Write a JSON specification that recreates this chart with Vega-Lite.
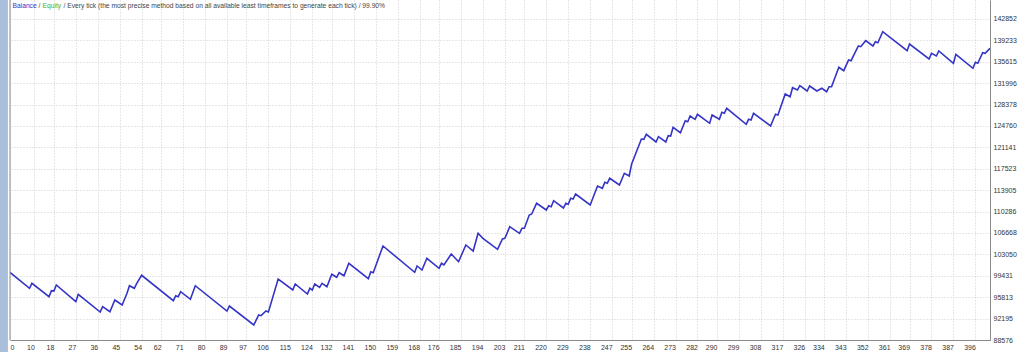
{
  "$schema": "https://vega.github.io/schema/vega-lite/v6.json",
  "width": 980,
  "height": 340,
  "padding": {"left": 10, "top": 0, "right": 34, "bottom": 12},
  "autosize": {"type": "none"},
  "background": "#ffffff",
  "config": {"view": {"stroke": null}, "font": "Liberation Sans"},
  "layer": [
    {
      "data": {"values": [{}]},
      "mark": {"type": "rect", "color": "#a8bedb", "clip": false},
      "encoding": {"x": {"datum": -4.2}, "x2": {"datum": -0.85}, "y": {"datum": 86540}, "y2": {"datum": 146063}}
    },
    {
      "data": {"values": [
        {"trade": 0, "balance": 100000}, {"trade": 8, "balance": 97317}, {"trade": 9, "balance": 98163},
        {"trade": 16, "balance": 95897}, {"trade": 17, "balance": 96912}, {"trade": 18, "balance": 96850},
        {"trade": 19, "balance": 97875}, {"trade": 27, "balance": 95052}, {"trade": 28, "balance": 96303},
        {"trade": 37, "balance": 93310}, {"trade": 38, "balance": 94206}, {"trade": 41, "balance": 93361},
        {"trade": 43, "balance": 95339}, {"trade": 46, "balance": 94494}, {"trade": 48, "balance": 96472},
        {"trade": 49, "balance": 97757}, {"trade": 51, "balance": 97317}, {"trade": 52, "balance": 98163},
        {"trade": 54, "balance": 99516}, {"trade": 67, "balance": 95221}, {"trade": 68, "balance": 96066},
        {"trade": 69, "balance": 95897}, {"trade": 70, "balance": 96743}, {"trade": 74, "balance": 95458},
        {"trade": 76, "balance": 97757}, {"trade": 89, "balance": 93479}, {"trade": 90, "balance": 94325},
        {"trade": 100, "balance": 91112}, {"trade": 102, "balance": 92803}, {"trade": 103, "balance": 92685},
        {"trade": 105, "balance": 93479}, {"trade": 106, "balance": 93310}, {"trade": 110, "balance": 98890},
        {"trade": 116, "balance": 97030}, {"trade": 117, "balance": 98044}, {"trade": 122, "balance": 96354},
        {"trade": 123, "balance": 97317}, {"trade": 124, "balance": 97030}, {"trade": 125, "balance": 98044},
        {"trade": 127, "balance": 97487}, {"trade": 128, "balance": 98163}, {"trade": 130, "balance": 97588},
        {"trade": 132, "balance": 99685}, {"trade": 134, "balance": 99177}, {"trade": 135, "balance": 99955},
        {"trade": 137, "balance": 99448}, {"trade": 139, "balance": 101545}, {"trade": 147, "balance": 98941},
        {"trade": 148, "balance": 100124}, {"trade": 149, "balance": 99955}, {"trade": 153, "balance": 104470},
        {"trade": 166, "balance": 100023}, {"trade": 167, "balance": 101088}, {"trade": 169, "balance": 100412},
        {"trade": 171, "balance": 102390}, {"trade": 176, "balance": 100699}, {"trade": 177, "balance": 101545},
        {"trade": 178, "balance": 101257}, {"trade": 181, "balance": 103117}, {"trade": 184, "balance": 101815},
        {"trade": 187, "balance": 104639}, {"trade": 190, "balance": 103624}, {"trade": 192, "balance": 106617},
        {"trade": 194, "balance": 105771}, {"trade": 200, "balance": 103912}, {"trade": 202, "balance": 105653},
        {"trade": 203, "balance": 105771}, {"trade": 205, "balance": 107733}, {"trade": 209, "balance": 106617},
        {"trade": 210, "balance": 107462}, {"trade": 211, "balance": 107462}, {"trade": 213, "balance": 109711},
        {"trade": 214, "balance": 109880}, {"trade": 216, "balance": 111689}, {"trade": 220, "balance": 110556},
        {"trade": 221, "balance": 111283}, {"trade": 222, "balance": 111114}, {"trade": 223, "balance": 112129},
        {"trade": 227, "balance": 110895}, {"trade": 228, "balance": 111689}, {"trade": 229, "balance": 111520},
        {"trade": 230, "balance": 112535}, {"trade": 231, "balance": 112416}, {"trade": 232, "balance": 113262},
        {"trade": 238, "balance": 111402}, {"trade": 241, "balance": 114614}, {"trade": 243, "balance": 114225},
        {"trade": 244, "balance": 115240}, {"trade": 245, "balance": 115071}, {"trade": 246, "balance": 115916},
        {"trade": 250, "balance": 114783}, {"trade": 252, "balance": 116762}, {"trade": 254, "balance": 116305},
        {"trade": 255, "balance": 118334}, {"trade": 259, "balance": 122561}, {"trade": 260, "balance": 122510},
        {"trade": 261, "balance": 123356}, {"trade": 265, "balance": 122054}, {"trade": 266, "balance": 122950},
        {"trade": 269, "balance": 122054}, {"trade": 270, "balance": 123119}, {"trade": 271, "balance": 123068},
        {"trade": 272, "balance": 124539}, {"trade": 275, "balance": 123626}, {"trade": 277, "balance": 125655},
        {"trade": 278, "balance": 125486}, {"trade": 279, "balance": 126450}, {"trade": 281, "balance": 125892},
        {"trade": 282, "balance": 126737}, {"trade": 287, "balance": 125216}, {"trade": 288, "balance": 126619},
        {"trade": 291, "balance": 125892}, {"trade": 292, "balance": 127075}, {"trade": 293, "balance": 126906},
        {"trade": 294, "balance": 127752}, {"trade": 302, "balance": 125046}, {"trade": 303, "balance": 125892},
        {"trade": 304, "balance": 125774}, {"trade": 305, "balance": 126906}, {"trade": 312, "balance": 124759},
        {"trade": 314, "balance": 126737}, {"trade": 315, "balance": 126619}, {"trade": 318, "balance": 130170},
        {"trade": 320, "balance": 129713}, {"trade": 321, "balance": 131235}, {"trade": 323, "balance": 130846},
        {"trade": 324, "balance": 131573}, {"trade": 327, "balance": 130677}, {"trade": 328, "balance": 131522},
        {"trade": 331, "balance": 130677}, {"trade": 333, "balance": 131134}, {"trade": 335, "balance": 130559},
        {"trade": 336, "balance": 131404}, {"trade": 337, "balance": 131404}, {"trade": 340, "balance": 134684},
        {"trade": 342, "balance": 134109}, {"trade": 344, "balance": 135918}, {"trade": 345, "balance": 135800},
        {"trade": 348, "balance": 138286}, {"trade": 349, "balance": 138167}, {"trade": 351, "balance": 139182},
        {"trade": 354, "balance": 138286}, {"trade": 355, "balance": 139013}, {"trade": 356, "balance": 138843},
        {"trade": 358, "balance": 140703}, {"trade": 368, "balance": 137491}, {"trade": 369, "balance": 138624},
        {"trade": 377, "balance": 136087}, {"trade": 378, "balance": 137051}, {"trade": 380, "balance": 136595},
        {"trade": 381, "balance": 137440}, {"trade": 387, "balance": 135360}, {"trade": 388, "balance": 136882},
        {"trade": 395, "balance": 134515}, {"trade": 396, "balance": 135530}, {"trade": 397, "balance": 135360},
        {"trade": 399, "balance": 137153}, {"trade": 400, "balance": 137051}, {"trade": 402, "balance": 137897}
      ]},
      "mark": {"type": "line", "color": "#3434c6", "strokeWidth": 1.6, "clip": true},
      "encoding": {
        "x": {
          "field": "trade", "type": "quantitative",
          "scale": {"domain": [0, 402], "nice": false, "zero": false},
          "axis": {
            "values": [0,10,18,27,36,45,54,62,71,80,89,97,106,115,124,132,141,150,159,168,176,185,194,203,211,220,229,238,247,255,264,273,282,290,299,308,317,326,334,343,352,361,369,378,387,396],
            "tickCount": 200, "format": "d",
            "title": null, "ticks": false,
            "labelAlign": {"condition": {"test": "datum.value == 0", "value": "left"}, "value": "right"},
            "labelBaseline": "top",
            "labelPadding": 3, "labelFontSize": 7, "labelColor": "#333333",
            "labelOverlap": false, "labelFlush": false, "labelBound": false,
            "grid": true, "gridColor": "#cfcfcf", "gridDash": [1, 2], "gridWidth": 1,
            "domainColor": "#8a8a8a", "domainWidth": 1
          }
        },
        "y": {
          "field": "balance", "type": "quantitative",
          "scale": {"domain": [88576, 146063], "nice": false, "zero": false},
          "axis": {
            "orient": "right",
            "values": [88576,92195,95813,99431,103050,106668,110286,113905,117523,121141,124760,128378,131996,135615,139233,142852],
            "tickCount": 200, "format": "d",
            "title": null, "ticks": false, "labelAlign": "left", "labelBaseline": "middle",
            "labelPadding": 3, "labelFontSize": 7, "labelColor": "#333333",
            "labelOverlap": false, "labelFlush": false, "labelBound": false,
            "grid": true, "gridColor": "#cfcfcf", "gridDash": [1, 2], "gridWidth": 1,
            "domainColor": "#8a8a8a", "domainWidth": 1
          }
        }
      }
    },
    {
      "data": {"values": [{}]},
      "mark": {"type": "rule", "color": "#8a8a8a", "strokeWidth": 1},
      "encoding": {"x": {"datum": 0}}
    },
    {
      "data": {"values": [{}]},
      "mark": {"type": "text", "align": "left", "baseline": "middle", "fontSize": 6.7, "color": "#3535c8", "dx": 2.5},
      "encoding": {"x": {"datum": 0}, "y": {"datum": 145049}, "text": {"value": "Balance"}}
    },
    {
      "data": {"values": [{}]},
      "mark": {"type": "text", "align": "left", "baseline": "middle", "fontSize": 6.7, "color": "#444444", "dx": 28.5},
      "encoding": {"x": {"datum": 0}, "y": {"datum": 145049}, "text": {"value": "/"}}
    },
    {
      "data": {"values": [{}]},
      "mark": {"type": "text", "align": "left", "baseline": "middle", "fontSize": 6.7, "color": "#33b533", "dx": 32.5},
      "encoding": {"x": {"datum": 0}, "y": {"datum": 145049}, "text": {"value": "Equity"}}
    },
    {
      "data": {"values": [{}]},
      "mark": {"type": "text", "align": "left", "baseline": "middle", "fontSize": 6.7, "color": "#444444", "dx": 53.5},
      "encoding": {"x": {"datum": 0}, "y": {"datum": 145049}, "text": {"value": "/ Every tick (the most precise method based on all available least timeframes to generate each tick) / 99.90%"}}
    }
  ]
}
